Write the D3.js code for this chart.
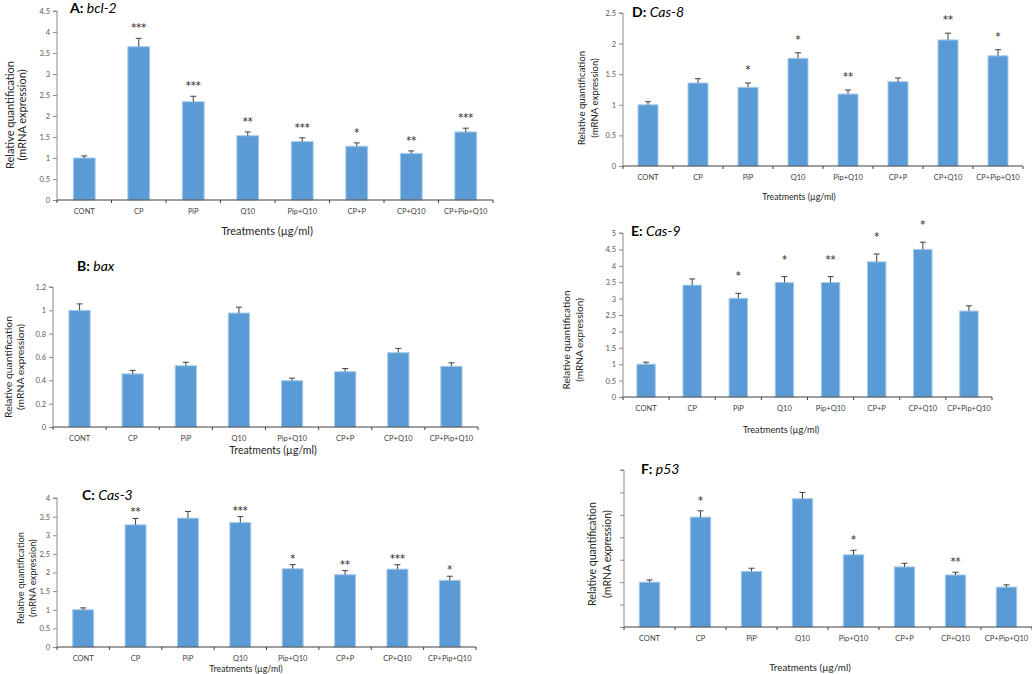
<!DOCTYPE html>
<html><head><meta charset="utf-8">
<script src="https://cdn.jsdelivr.net/npm/d3@7"></script>
<style>
html,body{margin:0;padding:0;background:#fff;}
svg{display:block;font-family:Lato,"Open Sans",sans-serif;}
</style></head>
<body>
<svg id="chart" width="1032" height="674"></svg>
<script>
// ---------- DATA ----------
const categories = ["CONT","CP","PiP","Q10","Pip+Q10","CP+P","CP+Q10","CP+Pip+Q10"];

const bcl2Values = [1.00, 3.65, 2.34, 1.53, 1.39, 1.28, 1.11, 1.62];
const bcl2Errors = [0.05, 0.20, 0.13, 0.09, 0.09, 0.08, 0.06, 0.09];
const bcl2Stars  = ["", "***", "***", "**", "***", "*", "**", "***"];

const baxValues = [1.00, 0.455, 0.525, 0.977, 0.397, 0.474, 0.637, 0.520];
const baxErrors = [0.055, 0.030, 0.030, 0.050, 0.022, 0.027, 0.037, 0.030];
const baxStars  = ["", "", "", "", "", "", "", ""];

const cas3Values = [1.00, 3.28, 3.46, 3.34, 2.10, 1.94, 2.09, 1.79];
const cas3Errors = [0.05, 0.17, 0.18, 0.16, 0.11, 0.11, 0.12, 0.11];
const cas3Stars  = ["", "**", "", "***", "*", "**", "***", "*"];

const cas8Values = [1.00, 1.356, 1.286, 1.76, 1.176, 1.378, 2.06, 1.80];
const cas8Errors = [0.05, 0.07, 0.07, 0.09, 0.065, 0.06, 0.11, 0.10];
const cas8Stars  = ["", "", "*", "*", "**", "", "**", "*"];

const cas9Values = [1.00, 3.41, 3.01, 3.49, 3.49, 4.12, 4.50, 2.62];
const cas9Errors = [0.06, 0.19, 0.15, 0.18, 0.18, 0.24, 0.22, 0.16];
const cas9Stars  = ["", "", "*", "*", "**", "*", "*", ""];

const p53Values = [1.00, 2.45, 1.24, 2.86, 1.61, 1.34, 1.16, 0.89];
const p53Errors = [0.05, 0.14, 0.07, 0.14, 0.10, 0.08, 0.06, 0.05];
const p53Stars  = ["", "*", "", "", "*", "", "**", ""];

const ticksA = [0, 0.5, 1, 1.5, 2, 2.5, 3, 3.5, 4, 4.5];
const ticksB = [0, 0.2, 0.4, 0.6, 0.8, 1, 1.2];
const ticksC = [0, 0.5, 1, 1.5, 2, 2.5, 3, 3.5, 4];
const ticksD = [0, 0.5, 1, 1.5, 2, 2.5];
const ticksE = [0, 0.5, 1, 1.5, 2, 2.5, 3, 3.5, 4, 4.5, 5];
const ticksF = [0, 0.5, 1, 1.5, 2, 2.5, 3, 3.5];

const yLabel1 = "Relative quantification";
const yLabel2 = "(mRNA expression)";
const xTitle = "Treatments (µg/ml)";

// ---------- LAYOUT (per panel) ----------
const panels = [
  {letter:"A:", gene:"bcl-2", values:bcl2Values, errors:bcl2Errors, stars:bcl2Stars, ticks:ticksA, labels:true,
   x0:57, x1:493, yb:200, yt:11, title:[70,13], yl:[9,21,115], ylSize:11, xt:[267,235], xtSize:11, starOff:12},
  {letter:"B:", gene:"bax", values:baxValues, errors:baxErrors, stars:baxStars, ticks:ticksB, labels:true,
   x0:53, x1:478, yb:427, yt:287, title:[77,271], yl:[8,20,367], ylSize:10.4, xt:[273,454], xtSize:10.5, starOff:12},
  {letter:"C:", gene:"Cas-3", values:cas3Values, errors:cas3Errors, stars:cas3Stars, ticks:ticksC, labels:true,
   x0:57, x1:476, yb:647, yt:498, title:[82,500], yl:[20,32,578], ylSize:9.4, xt:[246,672], xtSize:8.8, starOff:8},
  {letter:"D:", gene:"Cas-8", values:cas8Values, errors:cas8Errors, stars:cas8Stars, ticks:ticksD, labels:true,
   x0:623, x1:1023, yb:166, yt:13, title:[632,17], yl:[581,594,98], ylSize:9.6, xt:[799,200], xtSize:8.8, starOff:15},
  {letter:"E:", gene:"Cas-9", values:cas9Values, errors:cas9Errors, stars:cas9Stars, ticks:ticksE, labels:true,
   x0:623, x1:992, yb:397, yt:233, title:[631,236], yl:[566,579,340], ylSize:10.1, xt:[781,433], xtSize:9.2, starOff:19},
  {letter:"F:", gene:"p53", values:p53Values, errors:p53Errors, stars:p53Stars, ticks:ticksF, labels:false,
   x0:624, x1:1032, yb:627, yt:470, title:[641,474], yl:[592,607,554], ylSize:10.6, xt:[810,671], xtSize:9.8, starOff:12}
];

const svg = d3.select("#chart");
const fmt = d3.format("~g");

panels.forEach(p => {
  const g = svg.append("g");
  const x = d3.scaleBand().domain(categories).range([p.x0, p.x1]).paddingInner(0.6).paddingOuter(0.3);
  const xb = d3.scaleBand().domain(categories).range([p.x0, p.x1]);
  const ymax = p.ticks[p.ticks.length-1];
  const y = d3.scaleLinear().domain([0, ymax]).range([p.yb, p.yt]);

  // y axis
  const yAxis = d3.axisLeft(y).tickValues(p.ticks).tickSize(4).tickPadding(3)
      .tickFormat(p.labels ? fmt : () => "");
  const ya = g.append("g").attr("transform", `translate(${p.x0},0)`).call(yAxis);
  ya.select(".domain").attr("stroke", "#8c8c8c").attr("d", `M-4,${y(ymax)}H0V${y(0)}`);
  ya.selectAll(".tick line").attr("stroke", "#8c8c8c");
  ya.selectAll(".tick text").attr("fill", "#595959").attr("font-size", 7.5).attr("font-family","Lato,sans-serif");

  // bars
  g.selectAll("rect.bar").data(categories).join("rect")
    .attr("x", d => x(d)).attr("width", x.bandwidth())
    .attr("y", (d,i) => y(p.values[i])).attr("height", (d,i) => y(0) - y(p.values[i]))
    .attr("fill", "#5B9BD5").attr("stroke", "#A9CBEA").attr("stroke-width", 1);

  // error bars (upper)
  const eb = g.selectAll("g.err").data(categories).join("g");
  eb.append("line")
    .attr("x1", d => x(d) + x.bandwidth()/2).attr("x2", d => x(d) + x.bandwidth()/2)
    .attr("y1", (d,i) => y(p.values[i])).attr("y2", (d,i) => y(p.values[i] + p.errors[i]))
    .attr("stroke", "#404040").attr("stroke-width", 1);
  eb.append("line")
    .attr("x1", d => x(d) + x.bandwidth()/2 - 3).attr("x2", d => x(d) + x.bandwidth()/2 + 3)
    .attr("y1", (d,i) => y(p.values[i] + p.errors[i])).attr("y2", (d,i) => y(p.values[i] + p.errors[i]))
    .attr("stroke", "#404040").attr("stroke-width", 1);

  // stars
  g.selectAll("text.star").data(categories).join("text")
    .attr("x", d => x(d) + x.bandwidth()/2)
    .attr("y", (d,i) => y(p.values[i] + p.errors[i]) - p.starOff + 5)
    .attr("text-anchor", "middle").attr("font-size", 10).attr("fill", "#262626")
    .attr("font-family", "DejaVu Sans, sans-serif")
    .text((d,i) => p.stars[i]);

  // x axis
  const xAxis = d3.axisBottom(xb).tickSize(0).tickPadding(9);
  const xa = g.append("g").attr("transform", `translate(0,${p.yb})`).call(xAxis);
  xa.select(".domain").attr("stroke", "#404040").attr("stroke-width", 1.2).attr("d", `M${p.x0},0H${p.x1}`);
  xa.selectAll(".tick text").attr("fill", "#404040").attr("font-size", 7.5).attr("font-family","Lato,sans-serif");
  // boundary tick marks
  const bounds = categories.map(c => xb(c)).concat([p.x1]);
  g.selectAll("line.btick").data(bounds).join("line")
    .attr("x1", d => d).attr("x2", d => d).attr("y1", p.yb).attr("y2", p.yb + 3)
    .attr("stroke", "#404040").attr("stroke-width", 1);

  // title
  const t = g.append("text").attr("x", p.title[0]).attr("y", p.title[1])
    .attr("font-size", 14).attr("fill", "#000");
  t.append("tspan").attr("font-weight", "bold").text(p.letter + " ");
  t.append("tspan").attr("font-style", "italic").text(p.gene);

  // y label
  g.append("text").attr("transform", `translate(${p.yl[0]},${p.yl[2]}) rotate(-90)`)
    .attr("text-anchor", "middle").attr("dominant-baseline", "central")
    .attr("font-size", p.ylSize).attr("fill", "#262626").text(yLabel1);
  g.append("text").attr("transform", `translate(${p.yl[1]},${p.yl[2]}) rotate(-90)`)
    .attr("text-anchor", "middle").attr("dominant-baseline", "central")
    .attr("font-size", p.ylSize).attr("fill", "#262626").text(yLabel2);

  // x title
  g.append("text").attr("x", p.xt[0]).attr("y", p.xt[1]).attr("text-anchor", "middle")
    .attr("font-size", p.xtSize).attr("fill", "#262626").text(xTitle);
});
</script>
</body></html>
